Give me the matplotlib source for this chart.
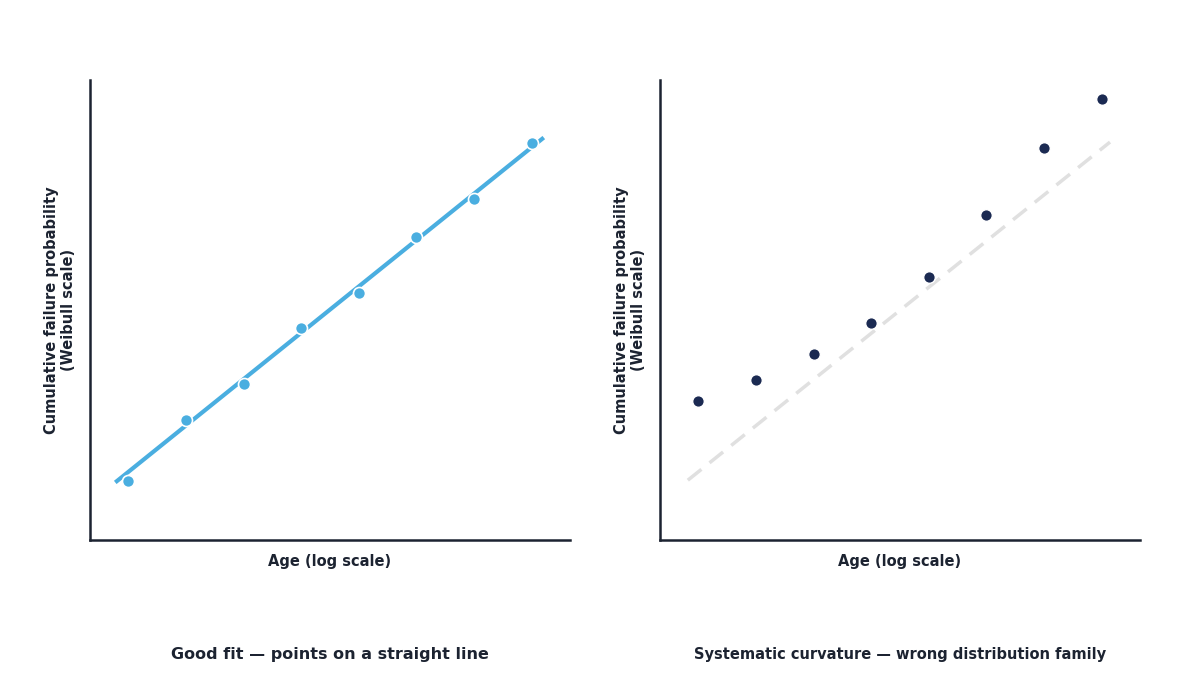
import matplotlib
matplotlib.use("Agg")
import matplotlib.pyplot as plt

# probability plot data (positions in plot units)
age_pts = [0.79, 2.0, 3.21, 4.40, 5.60, 6.79, 8.0, 9.21]
good_prob = [1.28, 2.61, 3.39, 4.61, 5.37, 6.59, 7.41, 8.63]
bad_prob = [3.02, 3.48, 4.04, 4.72, 5.72, 7.07, 8.52, 9.59]

# reference straight lines
good_line_x = [0.56, 9.42]
good_line_y = [1.28, 8.72]
bad_line_x = [0.58, 9.375]
bad_line_y = [1.30, 8.65]

titles = ["Good fit — points on a straight line",
          "Systematic curvature — wrong distribution family"]

dark = "#1c2331"
blue = "#4aaee0"
navy = "#1b2a52"

fig = plt.figure(figsize=(12, 6.75), dpi=100)
ax1 = fig.add_axes([0.075, 0.2, 0.4, 0.6815])
ax2 = fig.add_axes([0.55, 0.2, 0.4, 0.6815])

# left panel: good fit
ax1.plot(good_line_x, good_line_y, color=blue, lw=3, zorder=2)
ax1.scatter(age_pts, good_prob, s=75, color=blue, edgecolor="white", linewidth=1.2, zorder=3)

# right panel: curvature
ax2.plot(bad_line_x, bad_line_y, color="#e0e0e0", lw=2.5, ls=(0, (5, 3)), zorder=2)
ax2.scatter(age_pts, bad_prob, s=70, color=navy, edgecolor="white", linewidth=1.0, zorder=3)

for ax, t, fs in zip([ax1, ax2], titles, [11.5, 10.5]):
    ax.set_xlim(0, 10)
    ax.set_ylim(0, 10)
    ax.set_xticks([])
    ax.set_yticks([])
    for s in ["top", "right"]:
        ax.spines[s].set_visible(False)
    for s in ["left", "bottom"]:
        ax.spines[s].set_color(dark)
        ax.spines[s].set_linewidth(1.8)
    ax.set_xlabel("Age (log scale)", fontsize=10.5, fontweight="bold", color=dark, labelpad=10)
    ax.set_ylabel("Cumulative failure probability\n(Weibull scale)", fontsize=10.5,
                  fontweight="bold", color=dark, labelpad=10)
    pos = ax.get_position()
    fig.text(pos.x0 + pos.width / 2, 0.031, t, ha="center", va="center",
             fontsize=fs, fontweight="bold", color=dark)

fig.savefig("out.png", dpi=100, facecolor="white")
